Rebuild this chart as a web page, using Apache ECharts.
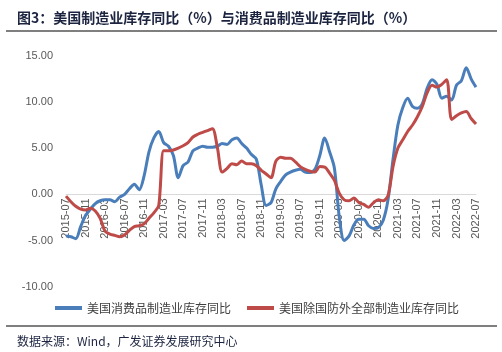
<!DOCTYPE html>
<html>
<head>
<meta charset="utf-8">
<script src="https://cdn.jsdelivr.net/npm/echarts@6/dist/echarts.min.js"></script>
<style>
html, body { margin: 0; padding: 0; background: #fff; }
#main { width: 502px; height: 352px; }
</style>
</head>
<body>
<div id="main"></div>
<script>
// months 2015-07 .. 2022-07
var months = [];
for (var y = 2015; y <= 2022; y++) {
    for (var m = 1; m <= 12; m++) {
        if ((y === 2015 && m < 7) || (y === 2022 && m > 7)) continue;
        months.push(y + '-' + (m < 10 ? '0' + m : m));
    }
}

var consumerInv = [
    -4.5, -4.6, -4.8, -3.5, -2.3, -1.6, -1.0, -0.7, -0.6, -0.6,
    -0.8, -0.3, 0.0, 0.6, 1.1, 0.5, 2.0, 4.6, 6.1, 6.8,
    5.6, 5.2, 4.2, 1.8, 3.1, 3.5, 4.7, 5.0, 5.2, 5.1,
    5.1, 5.2, 5.5, 5.4, 5.9, 6.1, 5.5, 5.0, 4.3, 3.8,
    1.0, -1.2, -0.9, 0.6, 1.4, 2.1, 2.4, 2.6, 2.7, 2.4,
    2.35, 2.7, 4.2, 6.1, 4.6, 2.8, -2.5, -5.0, -4.5, -3.3,
    -2.7, -2.7, -3.4, -3.7, -3.6, -2.8, -0.5, 3.8, 7.5, 9.4,
    10.4, 9.5, 9.3, 9.8, 11.5, 12.4, 11.9, 10.4, 10.6, 10.2,
    11.8, 12.3, 13.7, 12.5, 11.6
];

var exDefenseInv = [
    -0.2, -0.8, -1.3, -1.6, -1.7, -1.5, -1.8, -2.6, -4.0, -4.3,
    -4.45, -4.6, -4.4, -3.9, -3.5, -3.4, -3.2, -2.6, -2.0, -1.2,
    4.7, 4.7, 4.8, 5.0, 5.25, 5.6, 6.2, 6.5, 6.7, 6.9,
    7.1, 5.1, 2.4, 2.8, 3.3, 3.2, 3.6, 3.3, 3.3, 3.1,
    2.6, 2.2, 1.8, 3.6, 4.0, 3.9, 3.9, 3.5, 3.0, 2.7,
    2.5, 2.4, 3.0, 2.95, 2.3, 1.5, 0.1, -0.6, -0.7, -0.4,
    -0.9, -1.1, -1.4, -0.9, -0.6, -0.7, -0.1, 3.0, 5.0, 5.9,
    6.8, 7.5, 8.4, 9.5, 11.0, 11.8, 11.6, 11.9, 12.4, 8.1,
    8.5, 8.8, 8.95, 8.2, 7.6
];

var seriesNames = ['美国消费品制造业库存同比', '美国除国防外全部制造业库存同比'];

var yMin = -10, yMax = 15;
var gridTop = 55.7, gridBottom = 65.3;
// x axis sits on the zero line: shift it up from the grid bottom
var plotH = 352 - gridTop - gridBottom;
var zeroOffset = -plotH * (0 - yMin) / (yMax - yMin);

var myChart = echarts.init(document.getElementById('main'));
myChart.setOption({
    animation: false,
    title: [{
        text: '图3：美国制造业库存同比（%）与消费品制造业库存同比（%）',
        left: 12,
        top: 6,
        textStyle: { fontFamily: 'Noto Sans CJK SC', fontSize: 14, fontWeight: 'bold', color: '#1c2440' }
    }, {
        text: '数据来源：Wind，广发证券发展研究中心',
        left: 12,
        top: 330,
        textStyle: { fontFamily: 'Noto Sans CJK SC', fontSize: 12, fontWeight: 'normal', color: '#1c2440' }
    }],
    graphic: [
        { type: 'line', shape: { x1: 6, y1: 31, x2: 497, y2: 31 }, style: { stroke: '#000', lineWidth: 1.2 } },
        { type: 'line', shape: { x1: 6, y1: 326, x2: 497, y2: 326 }, style: { stroke: '#000', lineWidth: 1.2 } }
    ],
    legend: {
        data: seriesNames,
        bottom: 33,
        left: 50,
        icon: 'rect',
        itemWidth: 27,
        itemHeight: 4,
        itemGap: 16,
        textStyle: { fontFamily: 'Noto Sans CJK SC', fontSize: 12, color: '#404040' }
    },
    grid: { left: 66, right: 26, top: gridTop, bottom: gridBottom },
    xAxis: {
        type: 'category',
        data: months,
        boundaryGap: false,
        position: 'bottom',
        offset: zeroOffset,
        axisLine: { onZero: false, lineStyle: { color: '#d9d9d9' } },
        axisTick: { show: false },
        axisLabel: {
            interval: 3,
            rotate: 90,
            fontFamily: 'Liberation Sans',
            fontSize: 11,
            color: '#595959',
            margin: 4
        }
    },
    yAxis: {
        type: 'value',
        min: yMin,
        max: yMax,
        interval: 5,
        axisLine: { show: false },
        axisTick: { show: false },
        splitLine: { show: false },
        axisLabel: {
            formatter: function (v) { return v.toFixed(2); },
            fontFamily: 'Liberation Sans',
            fontSize: 11,
            color: '#595959',
            margin: 13
        }
    },
    series: [{
        name: seriesNames[0],
        type: 'line',
        data: consumerInv,
        smooth: 0.3,
        showSymbol: false,
        lineStyle: { width: 3, color: '#4a7ebb' },
        itemStyle: { color: '#4a7ebb' }
    }, {
        name: seriesNames[1],
        type: 'line',
        data: exDefenseInv,
        smooth: 0.3,
        showSymbol: false,
        lineStyle: { width: 3, color: '#be4b48' },
        itemStyle: { color: '#be4b48' }
    }]
});
</script>
</body>
</html>
